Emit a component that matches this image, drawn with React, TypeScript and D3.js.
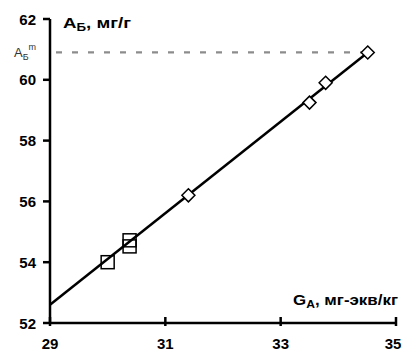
import * as d3 from 'd3';

// data
const xTicks = [29, 31, 33, 35];
const yTicks = [52, 54, 56, 58, 60, 62];
const diamonds = [
  {x: 31.4, y: 56.2},
  {x: 33.5, y: 59.25},
  {x: 33.78, y: 59.9},
  {x: 34.51, y: 60.9},
];
const squares = [
  {x: 30.0, y: 54.0},
  {x: 30.38, y: 54.72},
  {x: 30.38, y: 54.52},
];
const fitLine = [
  {x: 29, y: 52.6},
  {x: 34.51, y: 60.9},
];
const aMax = 60.9;

const W = 404;
const H = 352;
const font = 'Arial, "Liberation Sans", sans-serif';

const App = () => {
  const x = d3.scaleLinear().domain([29, 35]).range([50, 396]);
  const y = d3.scaleLinear().domain([52, 62]).range([323, 19]);
  const line = d3
    .line<{x: number; y: number}>()
    .x((d) => x(d.x))
    .y((d) => y(d.y));
  const ds = 6.5;
  const sq = 6.5;

  return (
    <svg
      width={W}
      height={H}
      style={{position: 'absolute', left: 0, top: 0, background: '#fff'}}
      fontFamily={font}
    >
      {/* dashed level A_Б^m */}
      <line
        x1={x(29) + 6}
        x2={x(34.51)}
        y1={y(aMax)}
        y2={y(aMax)}
        stroke="#8c8c8c"
        strokeWidth={2.2}
        strokeDasharray="6 10"
      />
      <text x={14} y={y(aMax) + 5} fontSize={13} fill="#333">
        A
        <tspan fontSize={9} dy={3}>Б</tspan>
        <tspan fontSize={9} dy={-10}>m</tspan>
      </text>

      {/* axes */}
      <line x1={x(29)} x2={x(29)} y1={y(62)} y2={y(52)} stroke="#000" strokeWidth={2.5} />
      <line x1={x(29)} x2={x(35)} y1={y(52)} y2={y(52)} stroke="#000" strokeWidth={2.5} />
      {yTicks.map((t) => (
        <g key={t}>
          <line x1={x(29) - 7} x2={x(29)} y1={y(t)} y2={y(t)} stroke="#000" strokeWidth={2.5} />
          <text
            x={36}
            y={y(t) + 5.5}
            textAnchor="end"
            fontSize={15}
            fontWeight="bold"
          >
            {t}
          </text>
        </g>
      ))}
      {xTicks.map((t) => (
        <g key={t}>
          <line x1={x(t)} x2={x(t)} y1={y(52) - 6} y2={y(52) + 3} stroke="#000" strokeWidth={2.5} />
          <text x={Math.min(x(t), 393)} y={349} textAnchor="middle" fontSize={15} fontWeight="bold">
            {t}
          </text>
        </g>
      ))}

      {/* axis titles */}
      <text x={63} y={28} fontSize={14} fontWeight="bold" textLength={68} lengthAdjust="spacingAndGlyphs">
        A<tspan fontSize={10} dy={3}>Б</tspan>
        <tspan dy={-3}>, мг/г</tspan>
      </text>
      <text x={293} y={305} fontSize={14} fontWeight="bold" textLength={105} lengthAdjust="spacingAndGlyphs">
        G<tspan fontSize={10} dy={3}>A</tspan>
        <tspan dy={-3}>,  мг-экв/кг</tspan>
      </text>

      {/* regression line */}
      <path d={line(fitLine) ?? ''} fill="none" stroke="#000" strokeWidth={2.5} />

      {/* markers */}
      {diamonds.map((d, i) => (
        <path
          key={'d' + i}
          d={`M${x(d.x)},${y(d.y) - ds}L${x(d.x) + ds},${y(d.y)}L${x(d.x)},${y(d.y) + ds}L${x(d.x) - ds},${y(d.y)}Z`}
          fill="#fff"
          stroke="#000"
          strokeWidth={1.5}
        />
      ))}
      {squares.map((d, i) => (
        <rect
          key={'s' + i}
          x={x(d.x) - sq}
          y={y(d.y) - sq}
          width={sq * 2}
          height={sq * 2}
          fill="none"
          stroke="#000"
          strokeWidth={1.5}
        />
      ))}
    </svg>
  );
};

export default App;
